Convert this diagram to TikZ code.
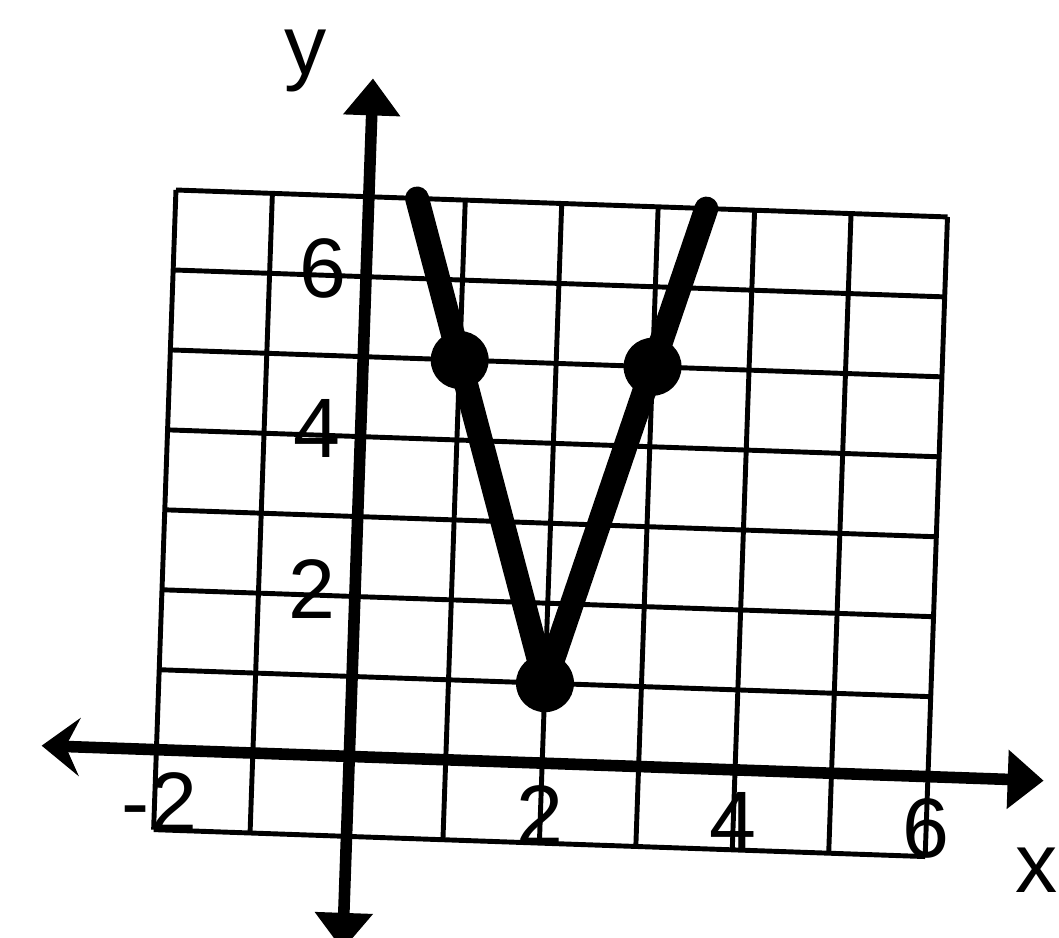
\documentclass[tikz,border=0pt]{standalone}
\usepackage{fontspec}
\setmainfont{Liberation Sans}
\usetikzlibrary{arrows.meta}

\begin{document}
\begin{tikzpicture}[
  gridline/.style={line width=1.4pt, color=black},
  axis/.style={line width=3.3pt, color=black},
  vline/.style={line width=6.8pt, line cap=round, line join=round, color=black},
  dot/.style={circle, fill=black, inner sep=0pt, minimum size=0.58cm},
  num/.style={font=\fontsize{24}{28}\selectfont, inner sep=0pt},
  axlbl/.style={font=\fontsize{24}{28}\selectfont, inner sep=0pt},
]

% page frame
\useasboundingbox (-3.493,-1.806) rectangle (7.097,7.564);

\begin{scope}[x=0.965cm, y=0.8cm, rotate=-2]

% grid
\foreach \i in {-2,...,6}
  \draw[gridline] (\i,-1) -- (\i,7);
\foreach \j in {-1,...,7}
  \draw[gridline] (-2,\j) -- (6,\j);

% axes
\draw[axis, {Stealth[length=0.38cm, width=0.58cm, inset=0.14cm]}-{Triangle[length=0.36cm, width=0.57cm]}]
  (-3.19,0) -- (7.2,0);
\draw[axis, {Triangle[length=0.37cm, width=0.56cm]}-{Triangle[length=0.37cm, width=0.55cm]}]
  (0,-2.42) -- (0,8.48);

% axis names
\node[axlbl] (xname) at (7.16,-1.12) {x};
\node[axlbl] (yname) at (-0.70,8.67) {y};

% tick numbers
\foreach \v in {2,4,6} {
  \node[num] (ty\v) at (-0.45,\v+0.08) {\v};
  \node[num] (tx\v) at (\v,-0.65) {\v};
}
\node[num] (txm2) at (-1.95,-0.65) {-2};

% the V
\coordinate (e1) at (0.5,7);
\coordinate (e2) at (3.5,7);
\node[dot] (p1) at (1,5) {};
\node[dot] (vx) at (2,1) {};
\node[dot] (p2) at (3,5) {};
\draw[vline] (e1) -- (p1.center) -- (vx.center) -- (p2.center) -- (e2);

\end{scope}
\end{tikzpicture}
\end{document}
